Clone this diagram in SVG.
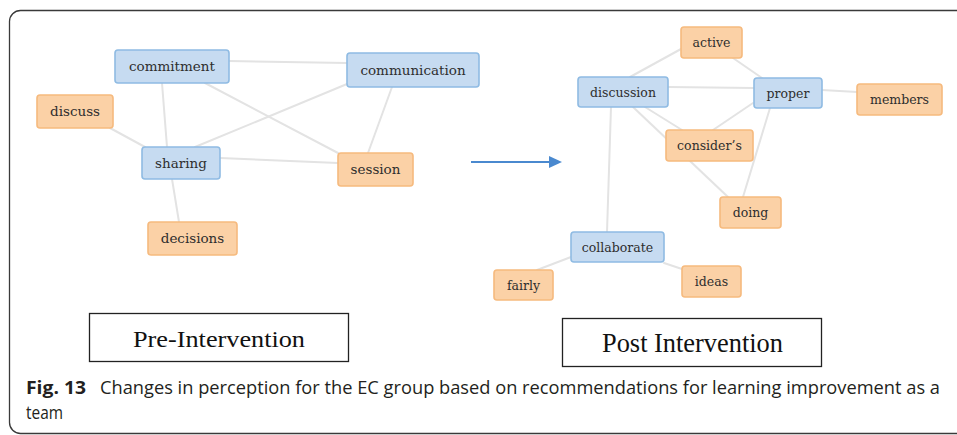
<svg xmlns="http://www.w3.org/2000/svg" width="957" height="435" viewBox="0 0 957 435">
<defs>
<style>
.edge{stroke:#e3e3e3;stroke-width:2;fill:none;stroke-linecap:round}
.blue rect{fill:#c6dbf1;stroke:#8fbbe3;stroke-width:1.6}
.orange rect{fill:#fbd1a6;stroke:#f6ba7e;stroke-width:1.6}
.lbl{font-family:"DejaVu Serif","Liberation Serif",serif;fill:#2e2e2e;text-anchor:middle}
.l{font-size:13.5px}
.r{font-size:12.5px}
.title{font-family:"Liberation Serif","Times New Roman",serif;fill:#111;text-anchor:start}
.cap{font-family:"Open Sans","Liberation Sans",Arial,sans-serif;font-size:17.8px;fill:#231f20}
</style>
</defs>
<rect id="frame" x="9.5" y="10.5" width="980" height="423" rx="11" fill="#fff" stroke="#3a3a3a" stroke-width="1.3"/>
<g id="connectors">
<line class="edge" x1="229" y1="61" x2="347" y2="63"/>
<line class="edge" x1="162" y1="83" x2="167" y2="147"/>
<line class="edge" x1="205" y1="83" x2="338" y2="153"/>
<line class="edge" x1="347" y1="84" x2="195" y2="147"/>
<line class="edge" x1="392" y1="87" x2="368" y2="153"/>
<line class="edge" x1="110" y1="128" x2="145" y2="147"/>
<line class="edge" x1="220" y1="158" x2="338" y2="163"/>
<line class="edge" x1="172" y1="179" x2="179" y2="222"/>
<line class="edge" x1="630" y1="77" x2="681" y2="49"/>
<line class="edge" x1="733" y1="58" x2="762" y2="78"/>
<line class="edge" x1="668" y1="87" x2="754" y2="88"/>
<line class="edge" x1="822" y1="90" x2="857" y2="92"/>
<line class="edge" x1="633" y1="107" x2="728" y2="197"/>
<line class="edge" x1="645" y1="107" x2="682" y2="130"/>
<line class="edge" x1="753" y1="103" x2="713" y2="130"/>
<line class="edge" x1="770" y1="108" x2="743" y2="197"/>
<line class="edge" x1="611" y1="107" x2="607" y2="232"/>
<line class="edge" x1="571" y1="257" x2="537" y2="270"/>
<line class="edge" x1="664" y1="263" x2="682" y2="269"/>
<g id="arrow">
<line x1="471" y1="162" x2="551" y2="162" stroke="#4a89cf" stroke-width="2"/>
<polygon points="549,156 562,162 549,168" fill="#4a89cf"/>
</g>
</g>
<g id="n-commitment" class="blue"><rect x="115" y="50" width="114" height="33" rx="3"/><text class="lbl l" x="172" y="71">commitment</text></g>
<g id="n-communication" class="blue"><rect x="347" y="53" width="132" height="34" rx="3"/><text class="lbl l" x="413" y="74.5">communication</text></g>
<g id="n-discuss" class="orange"><rect x="37" y="95" width="76" height="33" rx="3"/><text class="lbl l" x="75" y="116">discuss</text></g>
<g id="n-sharing" class="blue"><rect x="142" y="147" width="78" height="32" rx="3"/><text class="lbl l" x="181" y="167.5">sharing</text></g>
<g id="n-session" class="orange"><rect x="338" y="153" width="75" height="33" rx="3"/><text class="lbl l" x="375.5" y="174">session</text></g>
<g id="n-decisions" class="orange"><rect x="148" y="222" width="89" height="33" rx="3"/><text class="lbl l" x="192.5" y="243">decisions</text></g>
<g id="n-active" class="orange"><rect x="681" y="27" width="61" height="31" rx="3"/><text class="lbl r" x="711.5" y="47">active</text></g>
<g id="n-discussion" class="blue"><rect x="578" y="77" width="90" height="30" rx="3"/><text class="lbl r" x="623" y="96.5">discussion</text></g>
<g id="n-proper" class="blue"><rect x="754" y="78" width="68" height="30" rx="3"/><text class="lbl r" x="788" y="97.5">proper</text></g>
<g id="n-members" class="orange"><rect x="857" y="84" width="85" height="31" rx="3"/><text class="lbl r" x="899.5" y="104">members</text></g>
<g id="n-considers" class="orange"><rect x="666" y="130" width="87" height="31" rx="3"/><text class="lbl r" x="709.5" y="150">consider’s</text></g>
<g id="n-doing" class="orange"><rect x="720" y="197" width="61" height="31" rx="3"/><text class="lbl r" x="750.5" y="217">doing</text></g>
<g id="n-collaborate" class="blue"><rect x="571" y="232" width="93" height="30" rx="3"/><text class="lbl r" x="617.5" y="251.5">collaborate</text></g>
<g id="n-fairly" class="orange"><rect x="494" y="270" width="59" height="30" rx="3"/><text class="lbl r" x="523.5" y="289.5">fairly</text></g>
<g id="n-ideas" class="orange"><rect x="682" y="266" width="59" height="31" rx="3"/><text class="lbl r" x="711.5" y="286">ideas</text></g>
<g id="pre-label">
<rect x="89.5" y="313.5" width="259" height="48" fill="#fff" stroke="#222" stroke-width="1.3"/>
<text class="title" x="133" y="347" font-size="24" textLength="172" lengthAdjust="spacingAndGlyphs">Pre-Intervention</text>
</g>
<g id="post-label">
<rect x="562.5" y="318.5" width="259" height="48" fill="#fff" stroke="#222" stroke-width="1.3"/>
<text class="title" x="602" y="352" font-size="27" textLength="181" lengthAdjust="spacingAndGlyphs">Post Intervention</text>
</g>
<g id="caption">
<text class="cap" x="26" y="394" font-weight="bold" textLength="60" lengthAdjust="spacingAndGlyphs">Fig. 13</text>
<text class="cap" x="100" y="394" textLength="840" lengthAdjust="spacingAndGlyphs">Changes in perception for the EC group based on recommendations for learning improvement as a</text>
<text class="cap" x="26" y="419" textLength="37" lengthAdjust="spacingAndGlyphs">team</text>
</g>
</svg>
